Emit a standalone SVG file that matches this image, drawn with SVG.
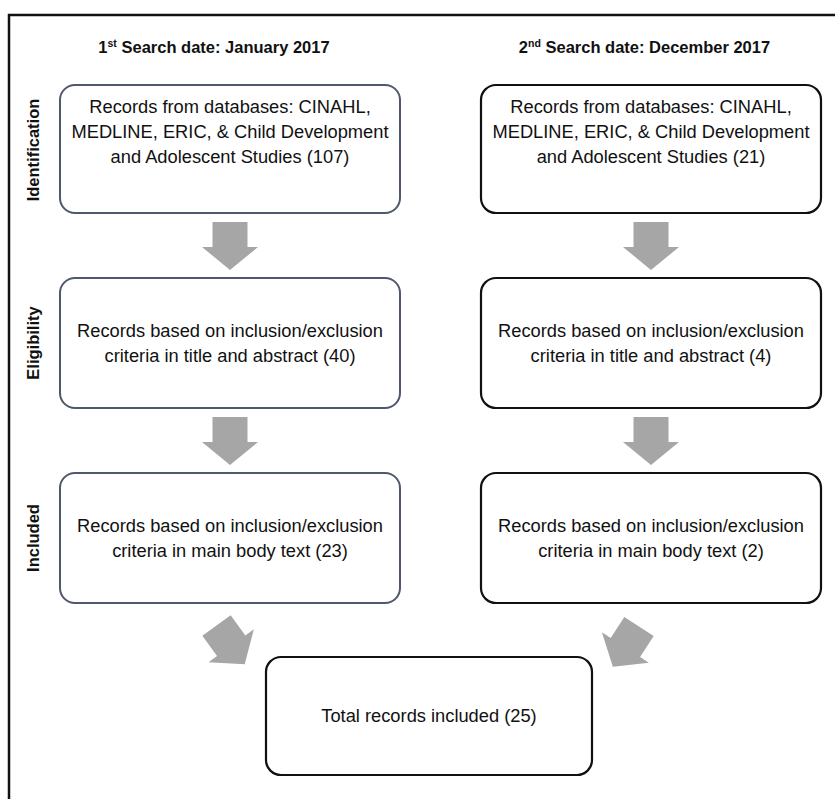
<svg xmlns="http://www.w3.org/2000/svg" width="835" height="799" viewBox="0 0 835 799">
<defs>
<style>
.t{font-family:"Liberation Sans",Arial,sans-serif;font-size:18.3px;fill:#111;text-anchor:middle}
.h{font-family:"Liberation Sans",Arial,sans-serif;font-size:16.5px;font-weight:bold;fill:#111;text-anchor:middle}
.boxL{fill:#fff;stroke:#4f586c;stroke-width:2}
.boxR{fill:#fff;stroke:#111;stroke-width:2.2}
.arr{fill:#a6a6a6}
</style>
<polygon id="arrow" points="-17.5,0 17.5,0 17.5,25 28,25 0,48 -28,25 -17.5,25"/>
</defs>
<rect width="835" height="799" fill="#fff"/>
<path d="M9,799 V15 H835" fill="none" stroke="#111" stroke-width="2.5"/>

<g id="headers">
<text class="h" x="214" y="53">1<tspan font-size="10.5" dy="-6">st</tspan><tspan dy="6"> Search date: January 2017</tspan></text>
<text class="h" x="644.5" y="53">2<tspan font-size="10.5" dy="-6">nd</tspan><tspan dy="6"> Search date: December 2017</tspan></text>
</g>

<g id="stage-labels">
<text class="h" transform="translate(39,150) rotate(-90)" x="0" y="0">Identification</text>
<text class="h" transform="translate(39,343) rotate(-90)" x="0" y="0">Eligibility</text>
<text class="h" transform="translate(39,538) rotate(-90)" x="0" y="0">Included</text>
</g>

<g id="connectors">
<use href="#arrow" class="arr" transform="translate(230,222)"/>
<use href="#arrow" class="arr" transform="translate(230,417)"/>
<use href="#arrow" class="arr" transform="translate(651,222)"/>
<use href="#arrow" class="arr" transform="translate(651,417)"/>
<use href="#arrow" class="arr" transform="translate(216.5,625.5) rotate(-36)"/>
<use href="#arrow" class="arr" transform="translate(639,626.5) rotate(33)"/>
</g>

<g id="id1">
<rect class="boxL" x="60" y="85" width="340" height="128" rx="15"/>
<text class="t" x="230" y="113">Records from databases: CINAHL,</text>
<text class="t" x="230" y="138">MEDLINE, ERIC, &amp; Child Development</text>
<text class="t" x="230" y="163">and Adolescent Studies (107)</text>
</g>
<g id="id2">
<rect class="boxR" x="481" y="85" width="340" height="128" rx="15"/>
<text class="t" x="651" y="113">Records from databases: CINAHL,</text>
<text class="t" x="651" y="138">MEDLINE, ERIC, &amp; Child Development</text>
<text class="t" x="651" y="163">and Adolescent Studies (21)</text>
</g>

<g id="el1">
<rect class="boxL" x="60" y="278" width="340" height="130" rx="15"/>
<text class="t" x="230" y="337">Records based on inclusion/exclusion</text>
<text class="t" x="230" y="362">criteria in title and abstract (40)</text>
</g>
<g id="el2">
<rect class="boxR" x="481" y="278" width="340" height="130" rx="15"/>
<text class="t" x="651" y="337">Records based on inclusion/exclusion</text>
<text class="t" x="651" y="362">criteria in title and abstract (4)</text>
</g>

<g id="in1">
<rect class="boxL" x="60" y="473" width="340" height="130" rx="15"/>
<text class="t" x="230" y="532">Records based on inclusion/exclusion</text>
<text class="t" x="230" y="557">criteria in main body text (23)</text>
</g>
<g id="in2">
<rect class="boxR" x="481" y="473" width="340" height="130" rx="15"/>
<text class="t" x="651" y="532">Records based on inclusion/exclusion</text>
<text class="t" x="651" y="557">criteria in main body text (2)</text>
</g>

<g id="total">
<rect class="boxR" x="266" y="657" width="326" height="118" rx="15"/>
<text class="t" x="429" y="722">Total records included (25)</text>
</g>
</svg>
